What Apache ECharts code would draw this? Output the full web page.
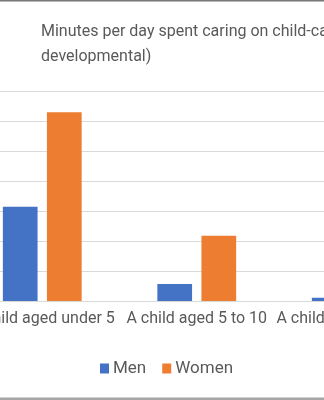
<!DOCTYPE html>
<html>
<head>
<meta charset="utf-8">
<script src="https://cdn.jsdelivr.net/npm/echarts@6/dist/echarts.min.js"></script>
<style>
html,body{margin:0;padding:0;background:#fff;width:324px;height:400px;overflow:hidden;position:relative;}
#chart{position:absolute;left:-35px;top:0;width:464px;height:400px;}
</style>
</head>
<body>
<div id="chart"></div>
<script>
var titleText = "Minutes per day spent caring on child-care (physical and\ndevelopmental)";
var categories = ["A child aged under 5", "A child aged 5 to 10", "A child aged 11 to 17"];
var menValues = [31.5, 5.7, 1.1];
var womenValues = [63.1, 21.8, 8];
var seriesNames = ["Men", "Women"];

var FONT = "Roboto, 'Liberation Sans', sans-serif";
var chart = echarts.init(document.getElementById('chart'), null, {renderer: 'canvas'});
chart.setOption({
  animation: false,
  backgroundColor: '#ffffff',
  textStyle: {fontFamily: FONT},
  title: {
    text: titleText,
    left: 76,
    top: 19,
    padding: 0,
    textStyle: {fontFamily: FONT, fontSize: 16, fontWeight: 'normal', color: '#595959', lineHeight: 25}
  },
  legend: {
    data: seriesNames,
    left: 135,
    top: 360,
    padding: 0,
    itemWidth: 9,
    itemHeight: 10,
    itemGap: 16,
    icon: 'rect',
    textStyle: {fontFamily: FONT, fontSize: 17, color: '#595959', padding: [0, 0, 0, -1]}
  },
  grid: {left: 0, right: 0, top: 91.5, bottom: 99, containLabel: false},
  xAxis: {
    type: 'category',
    data: categories,
    axisTick: {show: false},
    axisLine: {lineStyle: {color: '#d9d9d9', width: 1}},
    axisLabel: {interval: 0, margin: 10, fontFamily: FONT, fontSize: 16, color: '#595959'}
  },
  yAxis: {
    type: 'value',
    min: 0,
    max: 70,
    interval: 10,
    axisLabel: {show: false},
    axisLine: {show: false},
    axisTick: {show: false},
    splitLine: {lineStyle: {color: '#d9d9d9', width: 1}}
  },
  series: [
    {name: seriesNames[0], type: 'bar', data: menValues, barGap: '27%', barCategoryGap: '49%', itemStyle: {color: '#4472C4'}},
    {name: seriesNames[1], type: 'bar', data: womenValues, itemStyle: {color: '#ED7D31'}}
  ],
  graphic: [
    {type: 'rect', left: 0, top: 0, shape: {width: 464, height: 1.5}, style: {fill: '#777777'}, silent: true},
    {type: 'rect', left: 0, top: 397.5, shape: {width: 464, height: 2.5}, style: {fill: '#a6a6a6'}, silent: true}
  ]
});
</script>
</body>
</html>
